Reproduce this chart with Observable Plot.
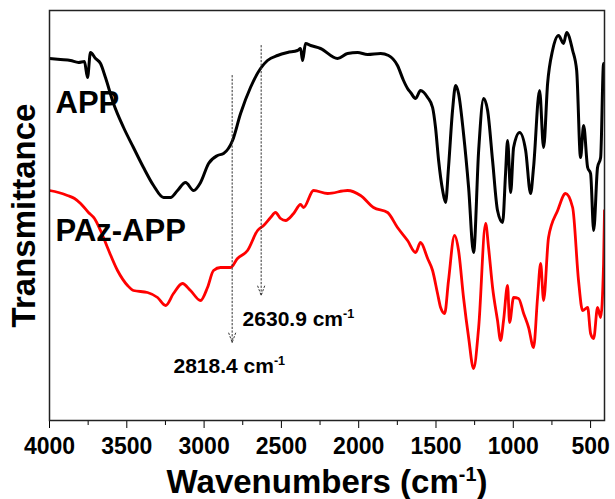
<!DOCTYPE html>
<html><head><meta charset="utf-8">
<script src="https://cdn.jsdelivr.net/npm/d3@7"></script>
<script src="https://cdn.jsdelivr.net/npm/@observablehq/plot@0.6"></script>
<style>body{margin:0;background:#fff}</style>
</head><body><div id="chart"></div>
<script>
// APP spectrum (wavenumber in cm-1, transmittance in arbitrary units)
const appWavenumber = [4000,3929,3864,3812,3774,3754,3735,3702,3670,3638,3586,3521,3457,3392,3327,3262,3217,3172,3120,3068,3023,2971,2913,2874,2816,2764,2700,2635,2590,2525,2460,2396,2376,2363,2344,2311,2247,2137,2072,2007,1943,1858,1807,1749,1710,1684,1664,1632,1600,1554,1522,1503,1483,1457,1438,1419,1393,1373,1354,1322,1289,1257,1224,1192,1166,1134,1102,1069,1050,1037,1017,998,959,920,888,869,830,804,778,746,707,675,655,616,590,565,545,519,500,480,455,435,416,410];
const appTransmittance = [362,361,360,358,359,343,368,362,357,343,317,293,273,253,235,223,223,230,238,230,238,257,265,267,280,307,333,352,360,365,368,370,372,360,377,375,372,362,367,368,366,367,365,355,340,332,328,322,330,323,313,293,260,230,218,253,310,335,327,287,233,168,270,322,310,260,210,198,247,280,228,273,288,270,227,253,330,273,337,370,385,377,388,370,350,263,295,253,247,190,253,263,357,337];
// PAz-APP spectrum
const pazWavenumber = [4000,3942,3884,3838,3799,3748,3709,3670,3625,3560,3495,3457,3366,3301,3249,3198,3140,3088,3023,2978,2939,2894,2829,2784,2719,2654,2615,2570,2538,2505,2473,2421,2376,2357,2292,2201,2072,1988,1904,1813,1749,1684,1632,1600,1554,1522,1490,1470,1444,1419,1380,1354,1322,1289,1257,1224,1179,1160,1134,1102,1082,1063,1037,1024,998,966,933,901,869,843,823,804,772,713,662,616,578,552,519,500,480,455,435,416,410];
const pazTransmittance = [230,228,225,222,217,208,202,190,173,150,135,130,128,123,115,127,137,130,120,133,150,153,153,162,170,190,195,203,208,202,200,207,216,213,230,227,230,225,213,208,193,180,168,178,162,150,127,113,107,140,185,170,123,83,52,93,197,173,133,100,80,100,135,98,123,122,107,93,73,123,157,120,183,210,227,213,140,110,113,87,82,113,103,157,210];

const seriesLabels = ["APP", "PAz-APP"];
const majorTicks = [4000,3500,3000,2500,2000,1500,1000,500];
const minorTicks = [3750,3250,2750,2250,1750,1250,750];
const annotationWavenumbers = [2818.4, 2630.9];
const annotationLabels = ["2818.4 cm-1", "2630.9 cm-1"];
const xTitle = "Wavenumbers (cm-1)";
const yTitle = "Transmittance";

const app = appWavenumber.map((wn, i) => ({wn, t: appTransmittance[i]}));
const paz = pazWavenumber.map((wn, i) => ({wn, t: pazTransmittance[i]}));

// arrow extents (top, tip) and label anchors, in chart units
const arrows = [
  {wn: annotationWavenumbers[0], top: 345, tip: 78},
  {wn: annotationWavenumbers[1], top: 375, tip: 125}
];
const notes = [
  {wn: 3198, t: 48, label: annotationLabels[0]},
  {wn: 2751, t: 95, label: annotationLabels[1]}
];

const font = "'Liberation Sans', Arial, Helvetica, sans-serif";
const plot = Plot.plot({
  width: 615, height: 499,
  marginLeft: 49, marginRight: 11, marginTop: 10, marginBottom: 79,
  style: {fontFamily: font, fontWeight: "bold", background: "#fff", color: "#000"},
  x: {domain: [4000, 410], label: null},
  y: {domain: [0, 410], axis: null},
  marks: [
    Plot.line(app, {x: "wn", y: "t", stroke: "#000", strokeWidth: 3, curve: "monotone-x", clip: true}),
    Plot.line(paz, {x: "wn", y: "t", stroke: "#f00", strokeWidth: 2.8, curve: "monotone-x", clip: true}),
    Plot.arrow(arrows, {x1: "wn", x2: "wn", y1: "top", y2: "tip", stroke: "#333", strokeWidth: 1, strokeDasharray: "1.5,2.2", headLength: 15, headAngle: 40}),
    Plot.text(notes, {x: "wn", y: "t", text: "label", textAnchor: "start", lineAnchor: "bottom", fontSize: 21, fill: "#000"}),
    Plot.text([seriesLabels[0]], {frameAnchor: "top-left", dx: 6, dy: 102, lineAnchor: "bottom", textAnchor: "start", fontSize: 31}),
    Plot.text([seriesLabels[1]], {frameAnchor: "top-left", dx: 6, dy: 230, lineAnchor: "bottom", textAnchor: "start", fontSize: 31}),
    Plot.axisX(majorTicks, {tickSize: 8, tickPadding: 9, fontSize: 23, label: null, tickFormat: d => String(d)}),
    Plot.axisX(minorTicks, {tickSize: 5, label: null, tickFormat: () => ""}),
    Plot.frame({stroke: "#222", strokeWidth: 1.5}),
    Plot.text([xTitle], {frameAnchor: "bottom", dy: 72, lineAnchor: "bottom", textAnchor: "middle", fontSize: 33}),
    Plot.text([yTitle], {frameAnchor: "left", dx: -25, rotate: -90, textAnchor: "middle", lineAnchor: "middle", fontSize: 33})
  ]
});

// render "cm-1" with a superscript -1
const ns = "http://www.w3.org/2000/svg";
plot.querySelectorAll("text, tspan").forEach(el => {
  if (el.childNodes.length === 1 && el.firstChild.nodeType === 3 && el.textContent.includes("cm-1")) {
    const s = el.textContent;
    const i = s.indexOf("cm-1");
    const before = s.slice(0, i + 2), after = s.slice(i + 4);
    el.textContent = before;
    const sup = document.createElementNS(ns, "tspan");
    sup.setAttribute("dy", "-0.6em");
    sup.setAttribute("font-size", "0.6em");
    sup.textContent = "-1";
    el.appendChild(sup);
    if (after) {
      const rest = document.createElementNS(ns, "tspan");
      rest.setAttribute("dy", "0.36em");
      rest.textContent = after;
      el.appendChild(rest);
    }
  }
});
plot.querySelectorAll('g[aria-label="x-axis tick label"]').forEach(g => g.setAttribute("font-size", 23));
document.getElementById("chart").appendChild(plot);
</script>
</body></html>
